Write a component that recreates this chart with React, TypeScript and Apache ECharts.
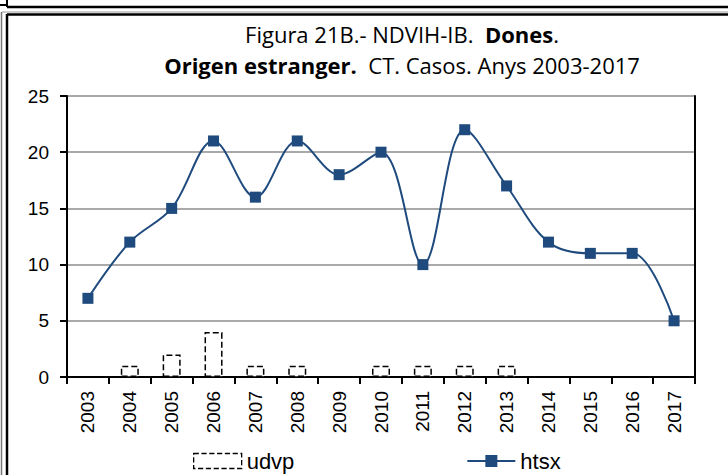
import React, { useEffect, useRef } from "react";
import * as echarts from "echarts";

const years = ["2003","2004","2005","2006","2007","2008","2009","2010","2011","2012","2013","2014","2015","2016","2017"];
const udvp = [0,1,2,4,1,1,0,1,1,1,1,0,0,0,0];
const htsx = [7,12,15,21,16,21,18,20,10,22,17,12,11,11,5];
const yTicks = { min: 0, max: 25, interval: 5 };
const lineColor = "#1F4A7E";

export default function App() {
  const ref = useRef<HTMLDivElement>(null);
  useEffect(() => {
    const chart = echarts.init(ref.current!, null, { renderer: "svg" });
    const axisFont = { fontFamily: "Liberation Sans", fontSize: 19, color: "#000" };
    chart.setOption({
      animation: false,
      backgroundColor: "#fff",
      title: {
        text: "{n|Figura 21B.- NDVIH-IB.  }{b|Dones}{n|.}\n{b|Origen estranger.}{n|  CT. Casos. Anys 2003-2017}",
        left: 397,
        textAlign: "center",
        top: 13,
        textStyle: {
          fontWeight: "normal",
          rich: {
            n: { fontFamily: "Open Sans", fontSize: 22, fontWeight: "normal", color: "#000", lineHeight: 31 },
            b: { fontFamily: "Open Sans", fontSize: 22, fontWeight: "bold", color: "#000", lineHeight: 31 },
          },
        },
      },
      grid: { left: 67, right: 33, top: 96, bottom: 98 },
      legend: {
        top: 445,
        left: 188,
        itemWidth: 48,
        itemHeight: 15,
        itemGap: 172,
        textStyle: { fontFamily: "Liberation Sans", fontSize: 22, color: "#000" },
        data: [
          { name: "udvp", icon: "rect", itemStyle: { color: "#fff", borderColor: "#000", borderType: "dashed", borderWidth: 1.3 } },
          { name: "htsx" },
        ],
      },
      xAxis: [
        {
          type: "category",
          data: years,
          boundaryGap: true,
          axisLine: { lineStyle: { color: "#000", width: 2 } },
          axisTick: { show: true, length: 7, lineStyle: { color: "#000", width: 2 }, alignWithLabel: false },
          axisLabel: { ...axisFont, rotate: 90, margin: 14 },
        },
        {
          type: "category",
          data: years,
          position: "top",
          axisLine: { lineStyle: { color: "#000", width: 2 } },
          axisTick: { show: false },
          axisLabel: { show: false },
        },
      ],
      yAxis: [
        {
          type: "value",
          ...yTicks,
          axisLine: { show: true, lineStyle: { color: "#000", width: 2 } },
          axisTick: { show: true, length: 7, lineStyle: { color: "#000", width: 2 } },
          axisLabel: { ...axisFont, margin: 18 },
          splitLine: { show: true, lineStyle: { color: "#8c8c8c", width: 1.5 } },
        },
        {
          type: "value",
          ...yTicks,
          position: "right",
          axisLine: { show: true, lineStyle: { color: "#000", width: 2 } },
          axisTick: { show: false },
          axisLabel: { show: false },
          splitLine: { show: false },
        },
      ],
      series: [
        {
          name: "udvp",
          type: "bar",
          data: udvp,
          barWidth: 18,
          itemStyle: { color: "#fff", borderColor: "#000", borderType: "dashed", borderWidth: 1.5 },
          z: 2,
        },
        {
          name: "htsx",
          type: "line",
          data: htsx,
          smooth: 0.35,
          symbol: "rect",
          symbolSize: 11,
          lineStyle: { color: lineColor, width: 2 },
          itemStyle: { color: lineColor },
          z: 3,
        },
      ],
      graphic: [
        { type: "line", shape: { x1: 0, y1: 5, x2: 7, y2: 5 }, style: { stroke: "#000", lineWidth: 2 } },
        { type: "line", shape: { x1: 7, y1: 0, x2: 7, y2: 7 }, style: { stroke: "#000", lineWidth: 2 } },
        { type: "line", shape: { x1: 7, y1: 7, x2: 728, y2: 7 }, style: { stroke: "#000", lineWidth: 2.5 } },
        { type: "line", shape: { x1: 2, y1: 12, x2: 728, y2: 12 }, style: { stroke: "#999", lineWidth: 1 } },
        { type: "line", shape: { x1: 7, y1: 14.5, x2: 728, y2: 14.5 }, style: { stroke: "#000", lineWidth: 2.5 } },
        { type: "line", shape: { x1: 1.5, y1: 12, x2: 1.5, y2: 475 }, style: { stroke: "#777", lineWidth: 1.5 } },
        { type: "line", shape: { x1: 7, y1: 14, x2: 7, y2: 475 }, style: { stroke: "#000", lineWidth: 2.5 } },
      ],
    });
    return () => chart.dispose();
  }, []);
  return <div ref={ref} style={{ width: 728, height: 475, position: "absolute", left: 0, top: 0 }} />;
}
